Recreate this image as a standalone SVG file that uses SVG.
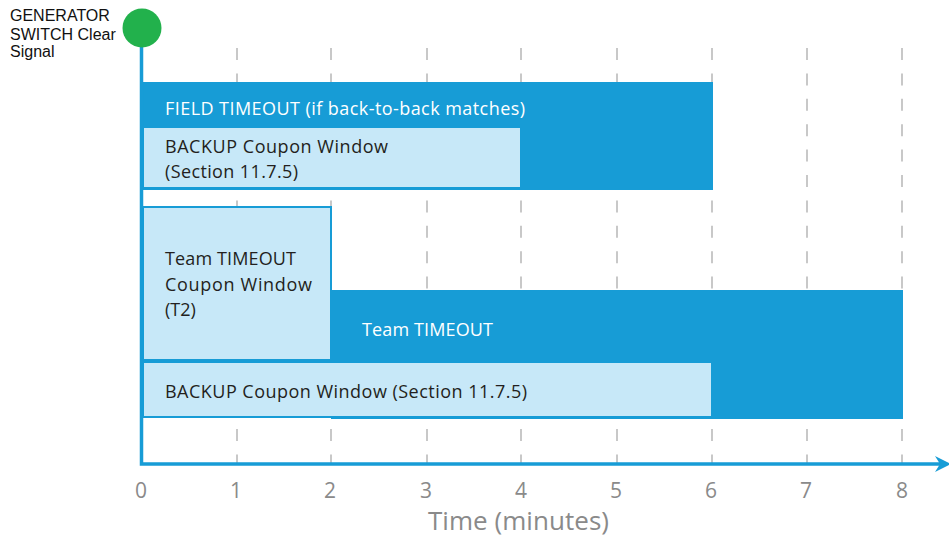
<svg xmlns="http://www.w3.org/2000/svg" width="949" height="539" viewBox="0 0 949 539">
  <style>
    .grid { stroke: #c8c8c8; stroke-width: 2; stroke-dasharray: 12 13.4; fill: none; }
    .dark { fill: #179cd6; }
    .light { fill: #c7e8f8; stroke: #179cd6; stroke-width: 2; }
    .lbl { font-family: "Open Sans", "Noto Sans", sans-serif; font-size: 18px; fill: #231f20; }
    .lblw { font-family: "Open Sans", "Noto Sans", sans-serif; font-size: 18px; fill: #ffffff; }
    .tick { font-family: "Open Sans", "Noto Sans", sans-serif; font-size: 21px; fill: #8a8a8a; text-anchor: middle; }
    .axis { stroke: #179cd6; stroke-width: 3.5; fill: none; }
  </style>

  <!-- dashed minute gridlines -->
  <g id="gridlines">
    <line class="grid" x1="237" y1="48" x2="237" y2="464"/>
    <line class="grid" x1="331" y1="48" x2="331" y2="464"/>
    <line class="grid" x1="427" y1="48" x2="427" y2="464"/>
    <line class="grid" x1="521" y1="48" x2="521" y2="464"/>
    <line class="grid" x1="617" y1="48" x2="617" y2="464"/>
    <line class="grid" x1="712" y1="48" x2="712" y2="464"/>
    <line class="grid" x1="807" y1="48" x2="807" y2="464"/>
    <line class="grid" x1="902" y1="48" x2="902" y2="464"/>
  </g>

  <!-- field timeout band -->
  <g id="field-timeout">
    <rect class="dark" x="143" y="82" width="570" height="108"/>
    <text class="lblw" x="165" y="115" textLength="360">FIELD TIMEOUT (if back-to-back matches)</text>
  </g>
  <g id="backup-window-1">
    <rect class="light" x="143" y="127" width="378" height="61"/>
    <text class="lbl" x="165" y="153" textLength="223">BACKUP Coupon Window</text>
    <text class="lbl" x="165" y="178" textLength="133">(Section 11.7.5)</text>
  </g>

  <!-- team timeout band -->
  <g id="team-timeout">
    <rect class="dark" x="331" y="290" width="572" height="129"/>
    <text class="lblw" x="362" y="336" textLength="131">Team TIMEOUT</text>
  </g>
  <g id="team-coupon-window">
    <rect class="light" x="143" y="207" width="188" height="153"/>
    <text class="lbl" x="165" y="265" textLength="131">Team TIMEOUT</text>
    <text class="lbl" x="165" y="291" textLength="147">Coupon Window</text>
    <text class="lbl" x="165" y="316">(T2)</text>
  </g>
  <g id="backup-window-2">
    <rect class="light" x="143" y="362" width="569" height="55"/>
    <text class="lbl" x="165" y="398" textLength="362">BACKUP Coupon Window (Section 11.7.5)</text>
  </g>

  <!-- axes -->
  <g id="axes">
    <polyline class="axis" points="141.5,28 141.5,464 940,464"/>
    <path d="M951 464 L935 456 L940 464 L935 472 Z" fill="#179cd6"/>
  </g>

  <!-- start signal -->
  <g id="start-signal">
    <circle cx="142" cy="28" r="19.5" fill="#22b14c"/>
    <text font-family="'Liberation Sans', Arial, sans-serif" font-size="16" fill="#111">
      <tspan x="10" y="21">GENERATOR</tspan>
      <tspan x="10" y="39.5">SWITCH Clear</tspan>
      <tspan x="10" y="57">Signal</tspan>
    </text>
  </g>

  <!-- axis labels -->
  <g id="axis-labels">
    <text class="tick" x="141" y="498">0</text>
    <text class="tick" x="236" y="498">1</text>
    <text class="tick" x="330" y="498">2</text>
    <text class="tick" x="426" y="498">3</text>
    <text class="tick" x="521" y="498">4</text>
    <text class="tick" x="616" y="498">5</text>
    <text class="tick" x="711" y="498">6</text>
    <text class="tick" x="806" y="498">7</text>
    <text class="tick" x="902" y="498">8</text>
    <text x="428" y="530" font-family="'Open Sans', 'Noto Sans', sans-serif" font-size="26" fill="#8a8a8a" textLength="181">Time (minutes)</text>
  </g>
</svg>
